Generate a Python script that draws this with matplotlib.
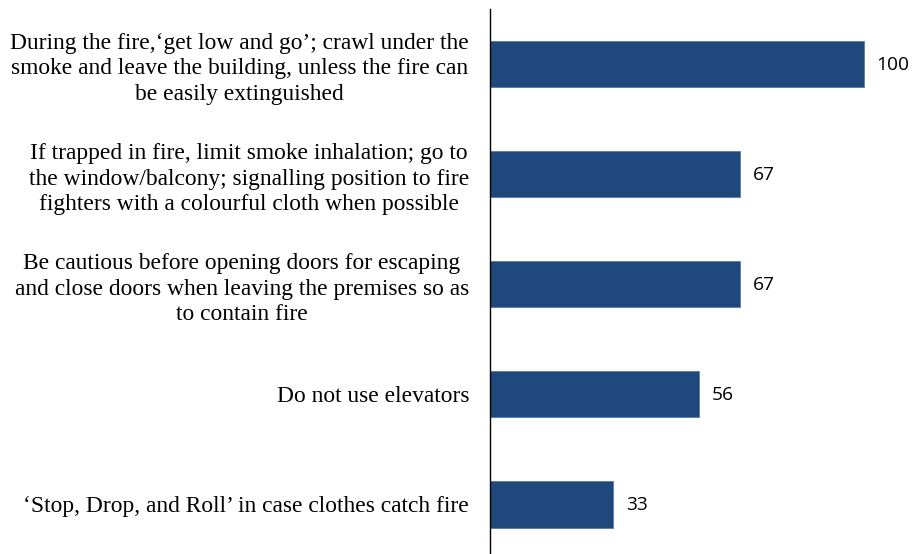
import matplotlib
matplotlib.use("Agg")
import matplotlib.pyplot as plt

categories = [
    "During the fire,\u2018get low and go\u2019; crawl under the\nsmoke and leave the building, unless the fire can\nbe easily extinguished",
    "If trapped in fire, limit smoke inhalation; go to\nthe window/balcony; signalling position to fire\nfighters with a colourful cloth when possible",
    "Be cautious before opening doors for escaping\nand close doors when leaving the premises so as\nto contain fire",
    "Do not use elevators",
    "\u2018Stop, Drop, and Roll\u2019 in case clothes catch fire",
]
values = [100, 67, 67, 56, 33]

fig = plt.figure(figsize=(9.16, 5.54), dpi=100)
ax = fig.add_axes([490/916, 0, 411/916, 545/554])

ypos = list(range(len(values)))
ax.barh(ypos, values, height=0.42, color="#1F497D", edgecolor="#5A7BA6", linewidth=0.6)
ax.set_xlim(0, 110)
ax.set_ylim(4.45, -0.5)

for y, v in zip(ypos, values):
    ax.annotate(str(v), xy=(v, y), xytext=(13, -1), textcoords="offset pixels",
                ha="left", va="center", fontsize=13.8, family="Open Sans", color="#000000")

ax.set_yticks(ypos)
ax.set_yticklabels(categories, fontsize=16.9, family="Liberation Serif", multialignment="center",
                   linespacing=1.3)
ax.tick_params(axis="y", length=0, pad=15)
ax.set_xticks([])
for s in ["top", "right", "bottom"]:
    ax.spines[s].set_visible(False)
ax.spines["left"].set_linewidth(1.0)
ax.spines["left"].set_color("black")

fig.savefig("out.png", dpi=100)
